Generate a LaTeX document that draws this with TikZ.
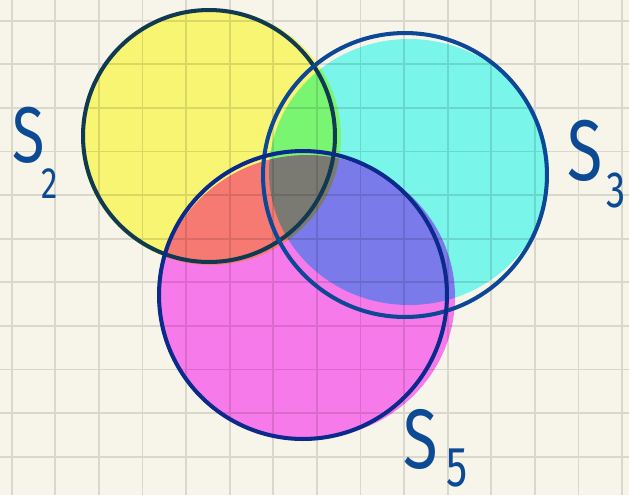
\documentclass[tikz,border=0pt]{standalone}
\usepackage{fontspec}
\setsansfont{Fira Sans}
\usetikzlibrary{positioning}
\definecolor{paper}{RGB}{247,245,234}
\definecolor{gridgray}{RGB}{218,215,204}
\definecolor{ink}{RGB}{13,74,148}
\definecolor{ringtwo}{RGB}{16,58,82}
\definecolor{ringthree}{RGB}{12,72,150}
\definecolor{ringfive}{RGB}{12,42,140}
\definecolor{fillyellow}{RGB}{255,255,125}
\definecolor{fillcyan}{RGB}{126,255,255}
\definecolor{fillmagenta}{RGB}{255,128,255}
\newcommand{\narrow}[2]{{\fontsize{#1}{#1}\selectfont\scalebox{0.75}[1]{#2}}}

\begin{document}
\begin{tikzpicture}[
  x=0.02cm,y=-0.02cm,font=\sffamily,
  gridline/.style={draw=gridgray,line width=1.1pt},
  blob/.style={blend mode=multiply},
  ring/.style={circle,draw,line width=2.3pt,inner sep=0pt,outer sep=0pt},
  setname/.style={text=ink,inner sep=0pt,anchor=base west}
]
% ---------- paper and grid
\fill[paper] (0,0) rectangle (629,495);
\useasboundingbox (0,0) rectangle (629,495);
\foreach \gx in {0,...,14} \draw[gridline] ({11.7+43.6*\gx},0) -- ({11.7+43.6*\gx},495);
\foreach \gy in {0,...,10} \draw[gridline] (0,{20.7+43.6*\gy}) -- (629,{20.7+43.6*\gy});
% ---------- coloured blobs (multiplied onto the paper)
\begin{scope}[blob]
  \fill[fillyellow]  (211,137) ellipse [x radius=130,y radius=128];
  \fill[fillcyan]    (409,172) ellipse [x radius=140,y radius=133];
  \fill[fillmagenta] (307,297) ellipse [x radius=148,y radius=142];
\end{scope}
% ---------- set outlines
\node[ring,draw=ringtwo,minimum size=5.04cm]   (S2) at (209,136) {};
\node[ring,draw=ringthree,minimum size=5.68cm] (S3) at (405,175) {};
\node[ring,draw=ringfive,minimum size=5.76cm]  (S5) at (303,295) {};
% ---------- names
\node[setname] (nameS2)  at (12,162)  {\narrow{45}{S}};
\node[setname] (indexS2) at (41,198)  {\narrow{25}{2}};
\node[setname] (nameS3)  at (567,180) {\narrow{49}{S}};
\node[setname] (indexS3) at (606,207) {\narrow{29}{3}};
\node[setname] (nameS5)  at (403,468) {\narrow{48}{S}};
\node[setname] (indexS5) at (446,486) {\narrow{32}{5}};
\end{tikzpicture}
\end{document}
